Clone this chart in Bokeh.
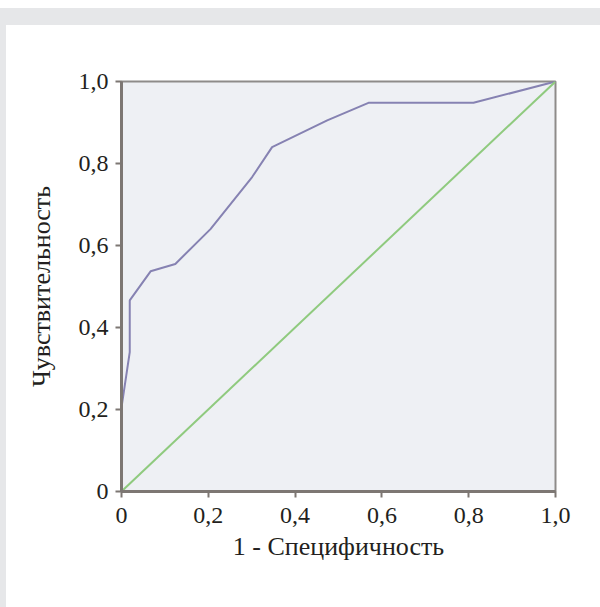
from bokeh.plotting import figure
from bokeh.models import Range1d, FixedTicker, Div
from bokeh.layouts import column, row
from bokeh.embed import file_html
from bokeh.resources import INLINE

# ROC curve data
fpr = [0.0, 0.0, 0.019, 0.019, 0.067, 0.124, 0.205, 0.301, 0.347, 0.474, 0.569, 0.811, 1.0]
tpr = [0.0, 0.205, 0.34, 0.466, 0.537, 0.555, 0.64, 0.767, 0.84, 0.905, 0.948, 0.948, 1.0]
ref_x = [0.0, 1.0]
ref_y = [0.0, 1.0]
tick_values = [0.0, 0.2, 0.4, 0.6, 0.8, 1.0]
tick_labels = ["0", "0,2", "0,4", "0,6", "0,8", "1,0"]
x_title = "1 - Специфичность"
y_title = "Чувствительность"

FONT = "'Liberation Serif', 'Times New Roman', 'DejaVu Serif', serif"
TXT = "#231f20"
AXC = "#7d7773"
BAND = "#e6e7e9"

p = figure(width=594, height=582, output_backend="svg", toolbar_location=None,
           x_range=Range1d(0, 1), y_range=Range1d(0, 1),
           min_border_left=115, min_border_right=45, min_border_top=56, min_border_bottom=116)
p.margin = (0, 0, 0, 0)
p.background_fill_color = "#eef0f4"
p.border_fill_color = "white"
p.outline_line_color = "#8e8b89"
p.outline_line_width = 2
p.grid.visible = False

p.line(fpr, tpr, line_color="#8682b2", line_width=2)
p.line(ref_x, ref_y, line_color="#8fca7e", line_width=2)

overrides = {v: s for v, s in zip(tick_values, tick_labels)}
for ax in (p.xaxis[0], p.yaxis[0]):
    ax.ticker = FixedTicker(ticks=tick_values)
    ax.major_label_overrides = overrides
    ax.axis_line_color = AXC
    ax.axis_line_width = 3
    ax.major_tick_line_color = AXC
    ax.major_tick_line_width = 2
    ax.major_tick_out = 6
    ax.major_tick_in = 0
    ax.minor_tick_line_color = None
    ax.major_label_text_font = FONT
    ax.major_label_text_font_size = "24px"
    ax.major_label_text_color = TXT
    ax.axis_label_text_font = FONT
    ax.axis_label_text_font_size = "26px"
    ax.axis_label_text_font_style = "normal"
    ax.axis_label_text_color = TXT

p.xaxis[0].axis_label = x_title
p.yaxis[0].axis_label = y_title
p.xaxis[0].major_label_standoff = 10
p.xaxis[0].axis_label_standoff = 6
p.yaxis[0].major_label_standoff = 7
p.yaxis[0].axis_label_standoff = 20

band = Div(width=600, height=17, margin=(8, 0, 0, 0), styles={"background-color": BAND})
strip = Div(width=6, height=582, margin=(0, 0, 0, 0), styles={"background-color": BAND})
layout = column(band, row(strip, p, spacing=0), spacing=0)

open("out.html", "w").write(file_html(layout, INLINE))
